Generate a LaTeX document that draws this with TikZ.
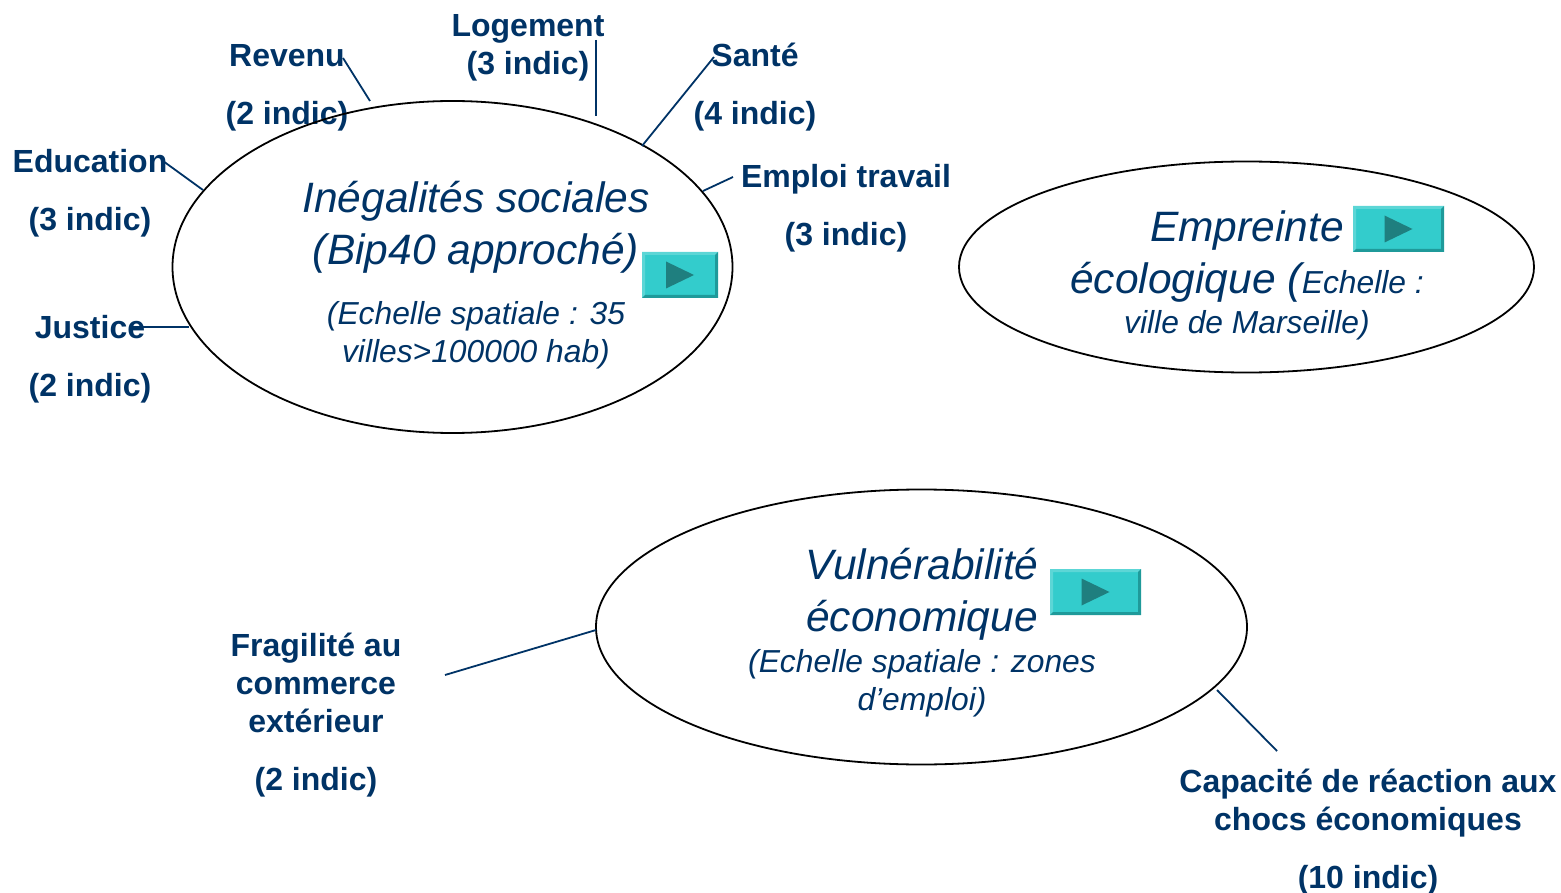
\documentclass[tikz,border=0pt]{standalone}
\usepackage{fontspec}
\setmainfont{Liberation Sans}
\usetikzlibrary{shapes.geometric}
\definecolor{navy}{HTML}{003366}
\definecolor{btnface}{HTML}{33CCCC}
\definecolor{btnlight}{HTML}{5CD6D6}
\definecolor{btndark}{HTML}{1F9A9A}
\definecolor{btnmark}{HTML}{1F7F7F}
\newcommand{\bigit}{\fontsize{42.5}{39}\selectfont}
\newcommand{\smallit}{\fontsize{31.8}{39}\selectfont}
\newcommand{\btn}[5]{%
  \fill[btnface] (#2,#3) rectangle (#4,#5);
  \fill[btnlight] (#2,#3) -- (#4,#3) -- ({#4-3},{#3+3}) -- ({#2+3},{#3+3}) -- ({#2+3},{#5-3}) -- (#2,#5) -- cycle;
  \fill[btndark] (#4,#5) -- (#2,#5) -- ({#2+3},{#5-3}) -- ({#4-3},{#5-3}) -- ({#4-3},{#3+3}) -- (#4,#3) -- cycle;
  \fill[btnmark] ({(#2+#4)/2-14},{(#3+#5)/2-13.5}) -- ({(#2+#4)/2+14},{(#3+#5)/2}) -- ({(#2+#4)/2-14},{(#3+#5)/2+13.5}) -- cycle;
  \coordinate (#1) at ({(#2+#4)/2},{(#3+#5)/2});
}
\tikzset{
  x=1pt,y=-1pt,
  lab/.style={text=navy,font=\bfseries\fontsize{32}{38}\selectfont,align=center,anchor=north,inner sep=0pt},
  ttl/.style={text=navy,font=\itshape\fontsize{31.8}{39}\selectfont,align=center,anchor=north,inner sep=0pt},
  bubble/.style={draw=black,line width=1.8pt,ellipse,inner sep=0pt},
  conn/.style={draw=navy,line width=1.8pt}
}
\begin{document}
\begin{tikzpicture}
\useasboundingbox (0,0) rectangle (1561,893);
% labels
\node[lab] (revenu) at (287,44) {Revenu\\[20pt](2 indic)};
\node[lab] (logement) at (528,14) {Logement\\(3 indic)};
\node[lab] (sante) at (755,43) {Santé\\[20pt](4 indic)};
\node[lab] (emploi) at (846,164) {Emploi travail\\[20pt](3 indic)};
\node[lab] (education) at (90,149) {Education\\[20pt](3 indic)};
\node[lab] (justice) at (90,315) {Justice\\[20pt](2 indic)};
\node[lab] (fragilite) at (316,633) {Fragilité au\\commerce\\extérieur\\[20pt](2 indic)};
\node[lab] (capacite) at (1368,769) {Capacité de réaction aux\\chocs économiques\\[20pt](10 indic)};
% bubbles
\node[bubble,minimum width=560pt,minimum height=332pt] (ineg) at (452.5,267) {};
\node[bubble,minimum width=575pt,minimum height=211pt] (empr) at (1246.5,267) {};
\node[bubble,minimum width=651pt,minimum height=275pt] (vuln) at (921.5,627) {};
% bubble texts
\node[ttl] (inegt) at (476,181) {\bigit Inégalités sociales\\[11pt]\bigit (Bip40 approché)\\[21pt]\smallit (Echelle spatiale : 35\\[-1pt]\smallit villes>100000 hab)};
\node[ttl] (emprt) at (1247,211) {\bigit Empreinte\\[10pt]\bigit écologique ({\smallit Echelle :}\\[1pt]\smallit ville de Marseille)};
\node[ttl] (vulnt) at (922,548) {\bigit Vulnérabilité\\[13pt]\bigit économique\\[2pt]\smallit (Echelle spatiale : zones\\[-1pt]\smallit d’emploi)};
% connector ends
\coordinate (c1) at (343,58);
\coordinate (e1) at (370,101);
\coordinate (c2) at (596,40);
\coordinate (e2) at (596,116);
\coordinate (c3) at (714,57);
\coordinate (e3) at (642,146);
\coordinate (c4) at (733,177);
\coordinate (e4) at (703,191);
\coordinate (c5) at (163,161);
\coordinate (e5) at (203,190);
\coordinate (c6) at (130,327);
\coordinate (e6) at (189,327);
\coordinate (c7) at (445,675);
\coordinate (e7) at (596,630);
\coordinate (c8) at (1277,751);
\coordinate (e8) at (1217,690);
\draw[conn] (c1) -- (e1);
\draw[conn] (c2) -- (e2);
\draw[conn] (c3) -- (e3);
\draw[conn] (c4) -- (e4);
\draw[conn] (c5) -- (e5);
\draw[conn] (c6) -- (e6);
\draw[conn] (c7) -- (e7);
\draw[conn] (c8) -- (e8);
% buttons
\btn{b1}{642}{252}{718}{298}
\btn{b2}{1353}{206}{1444}{252}
\btn{b3}{1050}{569}{1141}{615}
\end{tikzpicture}
\end{document}
